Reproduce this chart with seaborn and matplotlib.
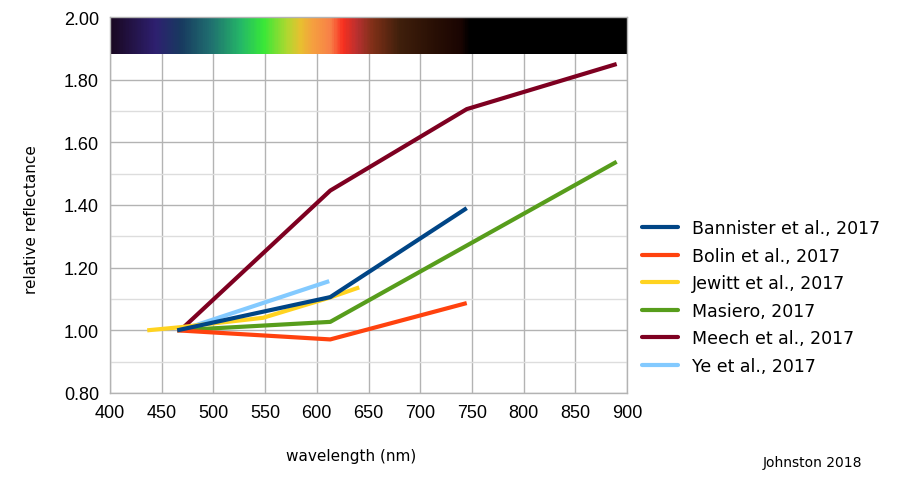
import numpy as np
import pandas as pd
import matplotlib
matplotlib.use('Agg')
import matplotlib.pyplot as plt
import seaborn as sns
from matplotlib.colors import LinearSegmentedColormap

# Reflectance spectra of 1I/'Oumuamua, normalised near 465 nm
series_names = ['Bannister et al., 2017', 'Bolin et al., 2017', 'Jewitt et al., 2017',
                'Masiero, 2017', 'Meech et al., 2017', 'Ye et al., 2017']
series_colors = ['#004586', '#ff420e', '#ffd320', '#579d1c', '#7e0021', '#83caff']

bannister_wl = [465, 613, 745]
bannister_refl = [1.00, 1.106, 1.39]
bolin_wl = [465, 613, 745]
bolin_refl = [1.00, 0.971, 1.087]
jewitt_wl = [436, 468, 548, 613, 641]
jewitt_refl = [1.00, 1.01, 1.04, 1.105, 1.137]
masiero_wl = [465, 613, 890]
masiero_refl = [1.00, 1.027, 1.538]
meech_wl = [468, 613, 745, 890]
meech_refl = [1.00, 1.446, 1.706, 1.85]
ye_wl = [468, 612]
ye_refl = [1.00, 1.157]

# colour stops of the visible spectrum bar at the top
spectrum_wl = [400, 443, 468, 497, 526, 548, 571, 584, 596, 613, 625, 639, 654, 680, 712, 740, 748, 900]
spectrum_hex = ['#1a0822', '#2e2070', '#183a60', '#207070', '#25b868', '#38e838', '#b0d830',
                '#e8c030', '#f5a040', '#f88048', '#f83020', '#b83030', '#803018', '#40200c',
                '#2a1005', '#1a0502', '#000000', '#000000']

wl_lists = [bannister_wl, bolin_wl, jewitt_wl, masiero_wl, meech_wl, ye_wl]
refl_lists = [bannister_refl, bolin_refl, jewitt_refl, masiero_refl, meech_refl, ye_refl]

frames = []
for name, wl, refl in zip(series_names, wl_lists, refl_lists):
    frames.append(pd.DataFrame({'wavelength': wl, 'reflectance': refl, 'source': name}))
df = pd.concat(frames, ignore_index=True)

sns.set_style('whitegrid', {'grid.color': '#b3b3b3', 'axes.edgecolor': '#b3b3b3'})
plt.rcParams['font.family'] = ['DejaVu Sans']

fig = plt.figure(figsize=(9, 4.81), dpi=100)
ax = fig.add_axes([110 / 900, 1 - 394 / 481, 517 / 900, 376 / 481])

# spectrum bar
lo, hi = spectrum_wl[0], spectrum_wl[-1]
cmap = LinearSegmentedColormap.from_list(
    'spec', [((w - lo) / (hi - lo), c) for w, c in zip(spectrum_wl, spectrum_hex)])
grad = np.linspace(lo, hi, 600).reshape(1, -1)
ax.imshow(grad, cmap=cmap, aspect='auto', extent=[400, 900, 1.882, 2.0],
          vmin=lo, vmax=hi, zorder=1.5)

palette = dict(zip(series_names, series_colors))
# draw in reverse so Bannister sits on top
for i, name in enumerate(reversed(series_names)):
    sub = df[df['source'] == name]
    sns.lineplot(data=sub, x='wavelength', y='reflectance', color=palette[name],
                 linewidth=3, ax=ax, zorder=3 + i, label=name, legend=False,
                 solid_capstyle='butt')

ax.set_xlim(400, 900)
ax.set_ylim(0.8, 2.0)
ax.set_xticks(np.arange(400, 901, 50))
ax.set_yticks(np.arange(0.8, 2.01, 0.2))
ax.set_yticks(np.arange(0.9, 2.0, 0.2), minor=True)
ax.set_yticklabels([f'{v:.2f}' for v in np.arange(0.8, 2.01, 0.2)])
ax.grid(True, which='major', color='#b3b3b3', linewidth=1)
ax.grid(True, which='minor', axis='y', color='#dddddd', linewidth=1)
ax.tick_params(axis='both', which='major', direction='out', length=5, color='#b3b3b3',
               width=1, labelsize=13, pad=3, labelcolor='black')
ax.tick_params(axis='y', which='minor', length=0)
for lab in ax.get_xticklabels() + ax.get_yticklabels():
    lab.set_family('Liberation Sans')
ax.set_xlabel('')
ax.set_ylabel('')
for s in ax.spines.values():
    s.set_color('#b3b3b3')
    s.set_linewidth(1)

handles = [plt.Line2D([], [], color=c, linewidth=3) for c in series_colors]
leg = fig.legend(handles, series_names, loc='center left', bbox_to_anchor=(642 / 900, 1 - 298 / 481),
                 frameon=False, fontsize=12.5, handlelength=2.07, handletextpad=0.8,
                 labelspacing=0.55, borderpad=0, borderaxespad=0)
for t in leg.get_texts():
    t.set_color('black')

fig.text(351 / 900, 1 - 457 / 481, 'wavelength (nm)', ha='center', va='center', fontsize=11,
         color='black')
fig.text(32 / 900, 1 - 220 / 481, 'relative reflectance', ha='center', va='center',
         fontsize=11, rotation=90, color='black')
fig.text(812 / 900, 1 - 463 / 481, 'Johnston 2018', ha='center', va='center', fontsize=10,
         color='black')

fig.savefig('out.png', dpi=100)
